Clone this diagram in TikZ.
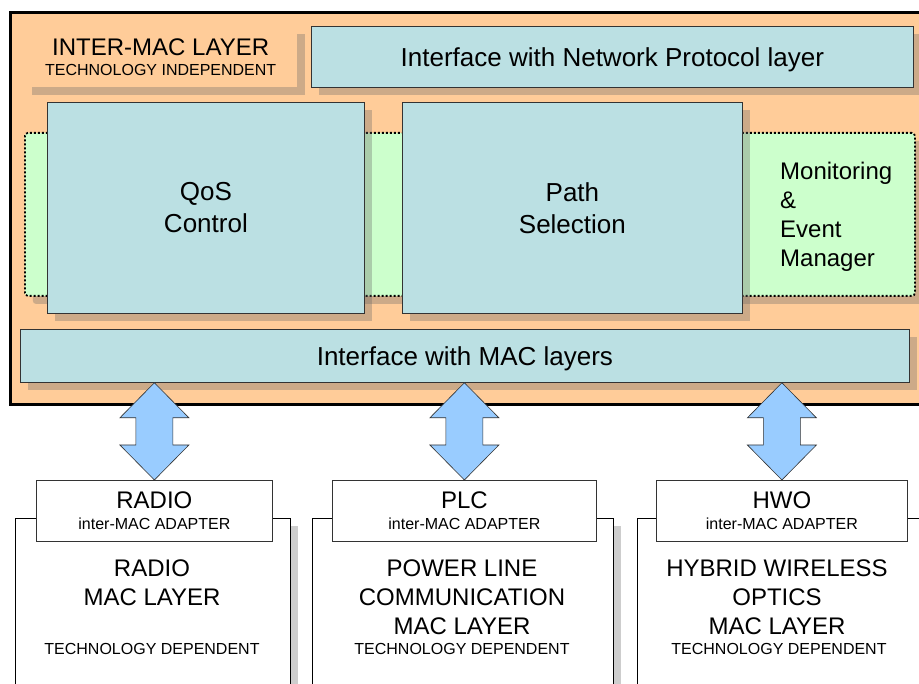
\documentclass[tikz,border=0pt]{standalone}
\usepackage{fontspec}
\setmainfont{Liberation Sans}
\usetikzlibrary{calc,shadows}
\definecolor{Peach}{HTML}{FFCC99}
\definecolor{Teal}{HTML}{BBE0E3}
\definecolor{Mint}{HTML}{CCFFCC}
\definecolor{Sky}{HTML}{99CCFF}
\definecolor{Edge}{HTML}{333333}
\newcommand{\bigtxt}{\fontsize{26}{32}\selectfont}
\newcommand{\midtxt}{\fontsize{24}{29}\selectfont}
\newcommand{\smalltxt}{\fontsize{16}{19}\selectfont}
\tikzset{
  dropped/.style={drop shadow={shadow xshift=8pt,shadow yshift=-8pt,fill=black!60,opacity=.33}},
  layer/.style={draw=black,fill=Peach,line width=3pt,anchor=north west},
  tagbox/.style={fill=Peach,dropped,anchor=north west,align=center,inner sep=0pt,text depth=-4pt,font=\smalltxt},
  block/.style={draw=Edge,fill=Teal,line width=.8pt,dropped,anchor=north west,align=center,inner sep=0pt,text depth=0pt,font=\bigtxt},
  zone/.style={draw=black,fill=Mint,line width=1.8pt,dash pattern=on 2pt off 2pt,rounded corners=3pt,dropped,anchor=north west},
  maclayer/.style={draw=black,fill=white,line width=.8pt,dropped,anchor=north west},
  adapter/.style={draw=Edge,fill=white,line width=.8pt,anchor=north west,align=center,inner sep=0pt,text depth=-4pt,font=\smalltxt},
  duplex/.style={draw=black!80,fill=Sky,line width=.6pt,line join=miter}
}
\begin{document}
\begin{tikzpicture}[x=1pt,y=-1pt]
  \useasboundingbox (0,0) rectangle (919,684);
  \clip (0,0) rectangle (919,684);

  % technology independent part
  \node[layer,minimum width=940pt,minimum height=392pt] (intermac) at (8.5,11.5) {};
  \node[tagbox,minimum width=273pt,minimum height=61pt] (title) at (24,26)
    {{\midtxt INTER-MAC LAYER}\\[1pt]TECHNOLOGY INDEPENDENT};
  \node[block,minimum width=602pt,minimum height=61pt] (netif) at (311,26) {Interface with Network Protocol layer};
  \node[zone,minimum width=890pt,minimum height=163pt] (monzone) at (24,132) {};
  \node[block,minimum width=317pt,minimum height=211pt] (qos) at (47,102) {QoS\\Control};
  \node[block,minimum width=340pt,minimum height=211pt] (pathsel) at (402,102) {Path\\Selection};
  \node[anchor=west,align=left,inner sep=0pt,font=\midtxt] (monitor) at (780,217) {Monitoring\\\&\\Event\\Manager};
  \node[block,minimum width=889pt,minimum height=53pt] (macif) at (20,329) {Interface with MAC layers};

  % technology dependent MAC layers
  \node[maclayer,minimum width=275pt,minimum height=200pt] (radiomac) at (15,518) {};
  \node[maclayer,minimum width=301pt,minimum height=200pt] (plcmac) at (312,518) {};
  \node[maclayer,minimum width=290pt,minimum height=200pt] (hwomac) at (637,518) {};
  \node[font=\midtxt,align=center] (radiotitle) at (152,583) {RADIO\\MAC LAYER};
  \node[font=\midtxt,align=center] (plctitle) at (462,597) {POWER LINE\\COMMUNICATION\\MAC LAYER};
  \node[font=\midtxt,align=center] (hwotitle) at (777,597) {HYBRID WIRELESS\\OPTICS\\MAC LAYER};
  \node[font=\smalltxt] (radiotech) at (152,649) {TECHNOLOGY DEPENDENT};
  \node[font=\smalltxt] (plctech) at (462,649) {TECHNOLOGY DEPENDENT};
  \node[font=\smalltxt] (hwotech) at (779,649) {TECHNOLOGY DEPENDENT};

  % adapters
  \node[adapter,minimum width=236pt,minimum height=61pt] (radioad) at (36,480) {{\midtxt RADIO}\\[2pt]inter-MAC ADAPTER};
  \node[adapter,minimum width=264pt,minimum height=61pt] (plcad) at (332,480) {{\midtxt PLC}\\[2pt]inter-MAC ADAPTER};
  \node[adapter,minimum width=251pt,minimum height=61pt] (hwoad) at (656,480) {{\midtxt HWO}\\[2pt]inter-MAC ADAPTER};

  \foreach \ad in {radioad,plcad,hwoad}{
    \coordinate (t) at (macif.south -| \ad.north);
    \coordinate (b) at (\ad.north);
    \draw[duplex] (t) -- ($(t)+(34.5pt,-35pt)$) -- ($(t)+(18.5pt,-35pt)$) -- ($(b)+(18.5pt,35pt)$)
      -- ($(b)+(34.5pt,35pt)$) -- (b) -- ($(b)+(-34.5pt,35pt)$) -- ($(b)+(-18.5pt,35pt)$)
      -- ($(t)+(-18.5pt,-35pt)$) -- ($(t)+(-34.5pt,-35pt)$) -- cycle;
  }
\end{tikzpicture}
\end{document}
